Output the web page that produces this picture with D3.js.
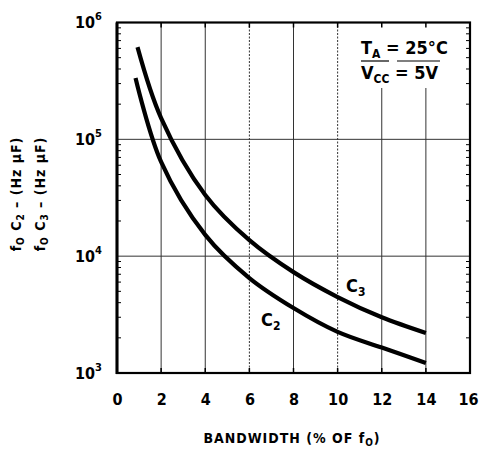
<!DOCTYPE html>
<html><head><meta charset="utf-8">
<script src="https://cdn.jsdelivr.net/npm/d3@7"></script>
<style>
body{margin:0;background:#fff;}
text{font-family:"DejaVu Sans Condensed","Liberation Sans Narrow",sans-serif;font-weight:bold;fill:#000;}
</style></head>
<body><svg id="c" width="479" height="451"></svg>
<script>
// Data
const bwC3 = [0.93, 2, 4, 6, 8, 10, 12, 14];
const valC3 = [6.15e5, 1.52e5, 3.34e4, 1.37e4, 7.3e3, 4.47e3, 3.0e3, 2.2e3];
const bwC2 = [0.84, 2, 4, 6, 8, 10, 12, 14];
const valC2 = [3.35e5, 6.4e4, 1.52e4, 6.5e3, 3.6e3, 2.25e3, 1.65e3, 1.22e3];
const xTicks = [0, 2, 4, 6, 8, 10, 12, 14, 16];
const yTickExp = [3, 4, 5, 6];

const svg = d3.select("#c");
const L = 117, R = 470, T = 22.5, B = 373;
const x = d3.scaleLinear().domain([0, 16]).range([L, R]);
const y = d3.scaleLog().domain([1e3, 1e6]).range([B, T]);

// grid lines
const g = svg.append("g");
xTicks.filter(d => d > 0 && d < 16).forEach(d => {
  const top = (d >= 12) ? 88 : T;
  g.append("line").attr("x1", x(d)).attr("x2", x(d)).attr("y1", top).attr("y2", B)
    .attr("stroke", "#333").attr("stroke-width", 1)
    .attr("stroke-dasharray", (d === 6 || d === 10) ? "2,1.5" : null);
});
[1e4, 1e5].forEach(v => {
  g.append("line").attr("x1", L).attr("x2", R).attr("y1", y(v)).attr("y2", y(v))
    .attr("stroke", "#333").attr("stroke-width", 1);
});

// minor ticks on left and right (log)
const minors = [];
for (let e = 3; e < 6; e++) for (let m = 2; m <= 9; m++) minors.push(m * Math.pow(10, e));
minors.forEach(v => {
  g.append("line").attr("x1", L).attr("x2", L + 4).attr("y1", y(v)).attr("y2", y(v)).attr("stroke", "#000");
  g.append("line").attr("x1", R - 4).attr("x2", R).attr("y1", y(v)).attr("y2", y(v)).attr("stroke", "#000");
});
// top/bottom ticks
xTicks.forEach(d => {
  g.append("line").attr("x1", x(d)).attr("x2", x(d)).attr("y1", T).attr("y2", T + 5).attr("stroke", "#000").attr("stroke-width", 1.5);
  g.append("line").attr("x1", x(d)).attr("x2", x(d)).attr("y1", B - 5).attr("y2", B).attr("stroke", "#000").attr("stroke-width", 1.5);
});

// frame
svg.append("rect").attr("x", L).attr("y", T).attr("width", R - L).attr("height", B - T)
  .attr("fill", "none").attr("stroke", "#000").attr("stroke-width", 2.2);
svg.append("line").attr("x1", L).attr("x2", L).attr("y1", T).attr("y2", B + 1).attr("stroke", "#000").attr("stroke-width", 3);

// axes with d3
const xAxis = d3.axisBottom(x).tickValues(xTicks).tickSize(0).tickPadding(0).tickFormat(d3.format("d"));
const ax = svg.append("g").attr("transform", `translate(0,${B})`).call(xAxis);
ax.select(".domain").remove();
ax.selectAll("text").attr("y", 32).attr("dy", 0).style("font-size", "16px")
  .style("font-family", '"DejaVu Sans Condensed",sans-serif').style("font-weight", "bold");
ax.selectAll(".tick").filter(d => d === 16).select("text").attr("text-anchor", "end").attr("x", 8);

const yAxis = d3.axisLeft(y).tickValues(yTickExp.map(e => Math.pow(10, e))).tickSize(0).tickFormat("");
const ay = svg.append("g").attr("transform", `translate(${L},0)`).call(yAxis);
ay.select(".domain").remove();
ay.selectAll(".tick").each(function(d) {
  const t = d3.select(this).append("text").attr("x", -42).attr("y", 5).attr("text-anchor", "start")
    .style("font-size", "16px");
  t.append("tspan").text("10");
  t.append("tspan").attr("dy", -8).style("font-size", "11px").text(Math.round(Math.log10(d)));
});

// curves
const line = d3.line().x(d => x(d[0])).y(d => y(d[1])).curve(d3.curveCatmullRom.alpha(0.5));
svg.append("path").datum(bwC3.map((b, i) => [b, valC3[i]])).attr("d", line)
  .attr("fill", "none").attr("stroke", "#000").attr("stroke-width", 4.2);
svg.append("path").datum(bwC2.map((b, i) => [b, valC2[i]])).attr("d", line)
  .attr("fill", "none").attr("stroke", "#000").attr("stroke-width", 4.2);

// curve labels
function subLabel(px, py, main, sub) {
  const t = svg.append("text").attr("x", px).attr("y", py).style("font-size", "18px");
  t.append("tspan").text(main);
  t.append("tspan").attr("dy", 4).style("font-size", "12px").text(sub);
}
subLabel(346, 292, "C", "3");
subLabel(261, 326, "C", "2");

// conditions box
const t1 = svg.append("text").attr("x", 361).attr("y", 54).style("font-size", "18px");
t1.append("tspan").text("T");
t1.append("tspan").attr("dy", 4).style("font-size", "12px").text("A");
t1.append("tspan").attr("dy", -4).text(" = 25°C");
svg.append("line").attr("x1", 361).attr("x2", 389).attr("y1", 61).attr("y2", 61).attr("stroke", "#000").attr("stroke-width", 1.2);
svg.append("line").attr("x1", 397).attr("x2", 440).attr("y1", 61).attr("y2", 61).attr("stroke", "#000").attr("stroke-width", 1.2);
const t2 = svg.append("text").attr("x", 361).attr("y", 79).style("font-size", "18px");
t2.append("tspan").text("V");
t2.append("tspan").attr("dy", 4).style("font-size", "12px").text("CC");
t2.append("tspan").attr("dy", -4).text(" = 5V");

// axis titles
const xt = svg.append("text").attr("x", 292).attr("y", 443).attr("text-anchor", "middle")
  .style("font-size", "14px").style("letter-spacing", "1px");
xt.append("tspan").text("BANDWIDTH (% OF f");
xt.append("tspan").attr("dy", 3).style("font-size", "10px").text("O");
xt.append("tspan").attr("dy", -3).text(")");

function yTitle(px, sub) {
  const t = svg.append("text").attr("transform", `translate(${px},194) rotate(-90)`)
    .attr("text-anchor", "middle").style("font-size", "14px").style("letter-spacing", "1px");
  t.append("tspan").text("f");
  t.append("tspan").attr("dy", 3).style("font-size", "10px").text("O");
  t.append("tspan").attr("dy", -3).text(" C");
  t.append("tspan").attr("dy", 3).style("font-size", "10px").text(sub);
  t.append("tspan").attr("dy", -3).text(" – (Hz μF)");
}
yTitle(21, "2");
yTitle(45, "3");
</script></body></html>
